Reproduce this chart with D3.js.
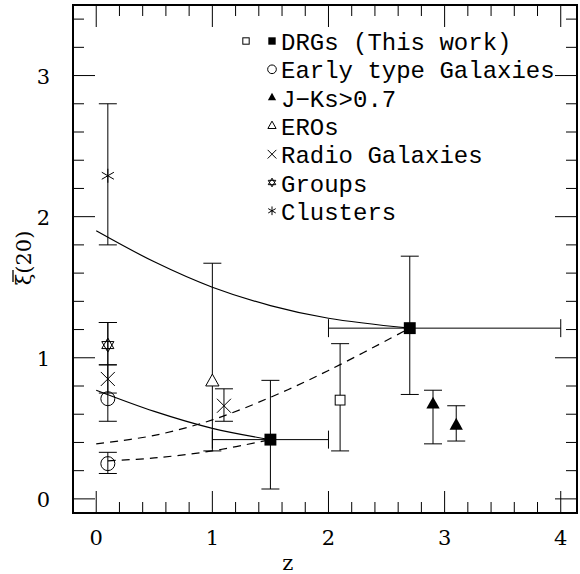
<!DOCTYPE html>
<html><head><meta charset="utf-8">
<script src="https://cdn.jsdelivr.net/npm/d3@7"></script>
<style>body{margin:0;background:#fff}text{font-family:"DejaVu Serif",serif}</style>
</head><body><svg id="c" width="580" height="574"></svg>
<script>
// points: [z, xi, yLo, yHi, xLo, xHi]
const drgFilled = [[1.5, 0.42, 0.07, 0.84, 1.0, 2.0], [2.7, 1.21, 0.74, 1.72, 2.0, 4.0]];
const drgOpen = [[2.1, 0.70, 0.34, 1.10]];
const earlyType = [[0.1, 0.71, 0.55, 1.25], [0.1, 0.25, 0.18, 0.33]];
const jks = [[2.9, 0.67, 0.39, 0.77], [3.1, 0.52, 0.41, 0.66]];
const eros = [[1.0, 0.83, 0.34, 1.67]];
const radio = [[0.1, 0.85, 0.75, 0.95], [1.1, 0.66, 0.55, 0.78]];
const groups = [[0.1, 1.09, 0.95, 1.25]];
const clusters = [[0.1, 2.29, 1.80, 2.80]];
const solidHigh = [[0, 1.90], [0.5, 1.68], [1, 1.50], [1.5, 1.37], [2, 1.28], [2.7, 1.21]];
const solidLow = [[0, 0.77], [0.5, 0.62], [1, 0.50], [1.5, 0.42]];
const dashLow = [[0.1, 0.27], [0.5, 0.29], [1, 0.34], [1.5, 0.42]];
const dashHigh = [[0, 0.39], [0.5, 0.45], [1, 0.56], [1.5, 0.72], [2, 0.91], [2.7, 1.21]];
const legendItems = ['DRGs (This work)', 'Early type Galaxies', 'J\u2212Ks>0.7', 'EROs', 'Radio Galaxies', 'Groups', 'Clusters'];

const svg = d3.select('#c');
const L = 73, R = 577, T = 5, B = 513;
const x = d3.scaleLinear().domain([-0.2, 4.14]).range([L, R]);
const y = d3.scaleLinear().domain([-0.1, 3.5]).range([B, T]);
const g = svg.append('g').attr('stroke', '#000').attr('fill', 'none');

// frame and ticks
g.append('rect').attr('x', L).attr('y', T).attr('width', R - L).attr('height', B - T).attr('stroke-width', 2);
d3.range(-0.2, 4.15, 0.2).forEach(v => {
  v = Math.round(v * 10) / 10;
  const len = Math.abs(v - Math.round(v)) < 1e-6 ? 22 : 11;
  g.append('line').attr('x1', x(v)).attr('x2', x(v)).attr('y1', B).attr('y2', B - len);
  g.append('line').attr('x1', x(v)).attr('x2', x(v)).attr('y1', T).attr('y2', T + len);
});
d3.range(-0.0, 3.5, 0.2).forEach(v => {
  v = Math.round(v * 10) / 10;
  const len = Math.abs(v - Math.round(v)) < 1e-6 ? 22 : 11;
  g.append('line').attr('y1', y(v)).attr('y2', y(v)).attr('x1', L).attr('x2', L + len);
  g.append('line').attr('y1', y(v)).attr('y2', y(v)).attr('x1', R).attr('x2', R - len);
});
[0, 1, 2, 3, 4].forEach(v => svg.append('text').attr('x', x(v)).attr('y', 545).attr('text-anchor', 'middle').attr('font-size', 21).text(v));
[0, 1, 2, 3].forEach(v => svg.append('text').attr('x', 50).attr('y', y(v) + 8).attr('text-anchor', 'end').attr('font-size', 21).text(v));
svg.append('text').attr('x', x(1.65)).attr('y', 570).attr('text-anchor', 'middle').attr('font-size', 21).text('z');
const yl = svg.append('g').attr('transform', 'translate(31,258) rotate(-90)');
yl.append('text').attr('text-anchor', 'middle').attr('font-size', 21).text('\u03BE(20)');
yl.append('line').attr('x1', -24).attr('x2', -12).attr('y1', -18).attr('y2', -18).attr('stroke', '#000').attr('stroke-width', 1.3);

// curves
const line = d3.line().x(d => x(d[0])).y(d => y(d[1])).curve(d3.curveCatmullRom);
[[solidHigh, null], [solidLow, null], [dashLow, '8,6'], [dashHigh, '8,6']].forEach(([d, dash]) =>
  g.append('path').attr('d', line(d)).attr('stroke-width', 1.2).attr('stroke-dasharray', dash));

// symbols
function sym(s, cx, cy, k) {
  k = k || 1;
  const r = 7 * k;
  if (s === 'sqF' || s === 'sqO') s === 'sqF'
    ? svg.append('rect').attr('x', cx - r * 0.85).attr('y', cy - r * 0.85).attr('width', r * 1.7).attr('height', r * 1.7)
    : g.append('rect').attr('x', cx - r * 0.7).attr('y', cy - r * 0.7).attr('width', r * 1.4).attr('height', r * 1.4).attr('fill', '#fff');
  else if (s === 'circ') g.append('circle').attr('cx', cx).attr('cy', cy).attr('r', r);
  else if (s === 'triF' || s === 'triO') {
    const p = [[cx, cy - r * 1.1], [cx - r * 0.95, cy + r * 0.6], [cx + r * 0.95, cy + r * 0.6]].join(' ');
    const el = s === 'triF' ? svg.append('polygon') : g.append('polygon').attr('fill', '#fff');
    el.attr('points', p);
  } else if (s === 'cross') {
    g.append('path').attr('d', `M${cx - r},${cy - r}L${cx + r},${cy + r}M${cx - r},${cy + r}L${cx + r},${cy - r}`);
  } else if (s === 'star') {
    const t1 = [0, 1, 2].map(i => [cx + r * Math.sin(i * 2 * Math.PI / 3), cy - r * Math.cos(i * 2 * Math.PI / 3)]);
    const t2 = [0, 1, 2].map(i => [cx + r * Math.sin(Math.PI + i * 2 * Math.PI / 3), cy - r * Math.cos(Math.PI + i * 2 * Math.PI / 3)]);
    g.append('polygon').attr('points', t1.join(' '));
    g.append('polygon').attr('points', t2.join(' '));
  } else if (s === 'ast') {
    let d = '';
    [0, 60, 120].forEach(a => { const c = Math.cos(a * Math.PI / 180) * r, sn = Math.sin(a * Math.PI / 180) * r; d += `M${cx - sn},${cy - c}L${cx + sn},${cy + c}`; });
    g.append('path').attr('d', d);
  }
}
function errs(data, s) {
  data.forEach(d => {
    const cx = x(d[0]), cy = y(d[1]);
    g.append('line').attr('x1', cx).attr('x2', cx).attr('y1', y(d[2])).attr('y2', y(d[3]));
    [d[2], d[3]].forEach(v => g.append('line').attr('x1', cx - 9).attr('x2', cx + 9).attr('y1', y(v)).attr('y2', y(v)));
    if (d.length > 4) {
      g.append('line').attr('x1', x(d[4])).attr('x2', x(d[5])).attr('y1', cy).attr('y2', cy);
      [d[4], d[5]].forEach(v => g.append('line').attr('x1', x(v)).attr('x2', x(v)).attr('y1', cy - 9).attr('y2', cy + 9));
    }
    sym(s, cx, cy);
  });
}
errs(earlyType, 'circ'); errs(radio, 'cross'); errs(groups, 'star'); errs(clusters, 'ast');
errs(eros, 'triO'); errs(drgOpen, 'sqO'); errs(jks, 'triF'); errs(drgFilled, 'sqF');

// legend
const lsyms = ['sqF', 'circ', 'triF', 'triO', 'cross', 'star', 'ast'];
legendItems.forEach((t, i) => {
  const yy = 42 + i * 28.3;
  sym(lsyms[i], 272, yy - 1, 0.62);
  if (i === 0) sym('sqO', 246, yy - 1, 0.65);
  svg.append('text').attr('x', 281).attr('y', yy + 8).attr('font-size', 24)
    .style('font-family', '"Liberation Mono", monospace').text(t);
});
</script></body></html>
